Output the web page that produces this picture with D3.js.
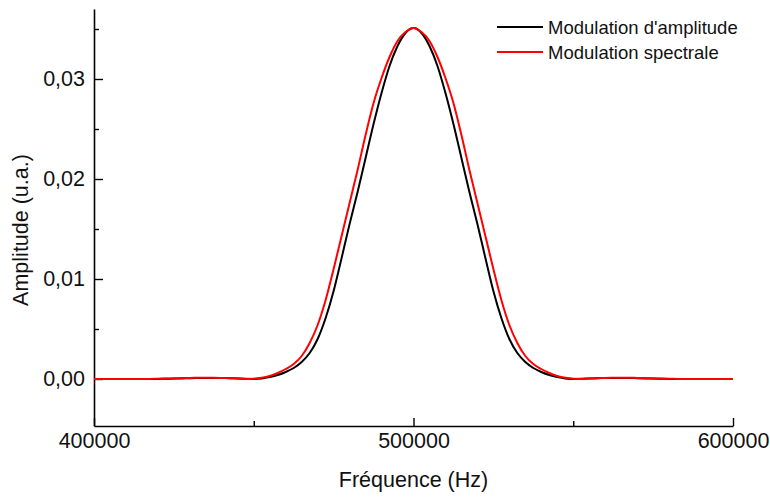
<!DOCTYPE html>
<html>
<head>
<meta charset="utf-8">
<script src="https://cdn.jsdelivr.net/npm/d3@7"></script>
<style>
  html, body { margin: 0; padding: 0; background: #fff; }
  svg { display: block; font-family: "Liberation Sans", Arial, sans-serif; }
</style>
</head>
<body>
<svg id="chart" width="770" height="498"></svg>
<script>
// Frequency grid (Hz)
const frequencies = [
  400000, 410000, 415000, 417500, 420000, 422500, 425000, 427500, 430000, 432500,
  435000, 437500, 440000, 442500, 445000, 447500, 450000, 452500, 455000, 457500,
  460000, 462500, 465000, 467500, 470000, 472500, 475000, 477500, 480000, 482500,
  485000, 487500, 490000, 492500, 495000, 497500, 500000,
  502500, 505000, 507500, 510000, 512500, 515000, 517500, 520000, 522500, 525000,
  527500, 530000, 532500, 535000, 537500, 540000, 542500, 545000, 547500, 550000,
  552500, 555000, 557500, 560000, 562500, 565000, 567500, 570000, 572500, 575000,
  577500, 580000, 582500, 585000, 590000, 600000
];

// Amplitude modulation spectrum (u.a.)
const amplitudeModulation = [
  0, 0, 0, 0, 0.00001, 0.00002, 0.00004, 0.00006, 0.00008, 0.0001,
  0.00011, 0.00011, 0.0001, 0.00008, 0.00005, 0.00002, 0.00001, 0.00006, 0.0002, 0.0004,
  0.0007, 0.0011, 0.0017, 0.0026, 0.0040, 0.0061, 0.0088, 0.0121, 0.0155, 0.0187,
  0.0221, 0.0255, 0.0286, 0.0313, 0.0333, 0.0346, 0.0351,
  0.0346, 0.0333, 0.0313, 0.0286, 0.0255, 0.0221, 0.0187, 0.0155, 0.0121, 0.0088,
  0.0061, 0.0040, 0.0026, 0.0017, 0.0011, 0.0007, 0.0004, 0.0002, 0.00006, 0.00001,
  0.00002, 0.00005, 0.00008, 0.0001, 0.00011, 0.00011, 0.0001, 0.00008, 0.00006, 0.00004,
  0.00002, 0.00001, 0, 0, 0, 0
];

// Spectral modulation spectrum (u.a.)
const spectralModulation = [
  0, 0, 0, 0.00001, 0.00002, 0.00004, 0.00006, 0.00009, 0.00011, 0.00012,
  0.00013, 0.00012, 0.0001, 0.00007, 0.00004, 0.00001, 0.00003, 0.00012, 0.0003, 0.0006,
  0.0010, 0.0015, 0.0023, 0.0036, 0.0054, 0.0079, 0.0110, 0.0143, 0.0176, 0.0209,
  0.0244, 0.0276, 0.0301, 0.0322, 0.0338, 0.0347, 0.0351,
  0.0347, 0.0338, 0.0322, 0.0301, 0.0276, 0.0244, 0.0209, 0.0176, 0.0143, 0.0110,
  0.0079, 0.0054, 0.0036, 0.0023, 0.0015, 0.0010, 0.0006, 0.0003, 0.00012, 0.00003,
  0.00001, 0.00004, 0.00007, 0.0001, 0.00012, 0.00013, 0.00012, 0.00011, 0.00009, 0.00006,
  0.00004, 0.00002, 0.00001, 0, 0, 0
];

const seriesNames = ["Modulation d'amplitude", "Modulation spectrale"];
const seriesColors = ["#000000", "#ff0000"];

const xMajorTicks = [400000, 500000, 600000];
const xMinorTicks = [450000, 550000];
const yMajorTicks = [0, 0.01, 0.02, 0.03];
const yMinorTicks = [0.005, 0.015, 0.025, 0.035];

const xTitle = "Fréquence (Hz)";
const yTitle = "Amplitude (u.a.)";

const svg = d3.select("#chart");
const fontSize = 21.5;

const x = d3.scaleLinear().domain([400000, 600000]).range([94, 733]);
const y = d3.scaleLinear().domain([-0.0047, 0.037]).range([426, 9]);

const yFmt = v => d3.format(".2f")(v).replace(".", ",");

// Left axis: major ticks with labels, minor ticks without
const gy = svg.append("g").attr("transform", `translate(${x.range()[0]},0)`);
gy.call(d3.axisLeft(y).tickValues(yMajorTicks).tickFormat(yFmt)
  .tickSizeInner(-9).tickSizeOuter(0).tickPadding(9));
gy.append("g").call(d3.axisLeft(y).tickValues(yMinorTicks).tickFormat("")
  .tickSizeInner(-5).tickSizeOuter(0))
  .select(".domain").remove();

// Bottom axis
const gx = svg.append("g").attr("transform", `translate(0,${y.range()[0]})`);
gx.call(d3.axisBottom(x).tickValues(xMajorTicks).tickFormat(d3.format("d"))
  .tickSizeInner(-8).tickSizeOuter(0).tickPadding(7));
gx.append("g").call(d3.axisBottom(x).tickValues(xMinorTicks).tickFormat("")
  .tickSizeInner(-5).tickSizeOuter(0))
  .select(".domain").remove();

svg.selectAll(".domain").attr("stroke", "#000").attr("stroke-width", 1.6);
svg.selectAll(".tick line").attr("stroke", "#000").attr("stroke-width", 1.4);
svg.selectAll(".tick text")
  .attr("font-family", "'Liberation Sans', Arial, sans-serif")
  .attr("font-size", fontSize).attr("fill", "#111");

// Axis titles
svg.append("text")
  .attr("x", 413.5).attr("y", 487)
  .attr("text-anchor", "middle")
  .attr("font-size", fontSize).attr("fill", "#111")
  .text(xTitle);
svg.append("text")
  .attr("transform", "translate(28,230) rotate(-90)")
  .attr("text-anchor", "middle")
  .attr("font-size", fontSize).attr("fill", "#111")
  .text(yTitle);

// Curves
const series = [amplitudeModulation, spectralModulation];
const line = d3.line()
  .x(d => x(d[0]))
  .y(d => y(d[1]))
  .curve(d3.curveMonotoneX);

series.forEach((vals, i) => {
  svg.append("path")
    .datum(frequencies.map((f, k) => [f, vals[k]]))
    .attr("fill", "none")
    .attr("stroke", seriesColors[i])
    .attr("stroke-width", 2)
    .attr("stroke-linejoin", "round")
    .attr("d", line);
});

// Legend
const legend = svg.append("g");
seriesNames.forEach((name, i) => {
  const yy = 27 + i * 25;
  legend.append("line")
    .attr("x1", 497).attr("x2", 543)
    .attr("y1", yy).attr("y2", yy)
    .attr("stroke", seriesColors[i]).attr("stroke-width", 2);
  legend.append("text")
    .attr("x", 548).attr("y", yy + 7)
    .attr("font-size", 18.5).attr("fill", "#111")
    .text(name);
});
</script>
</body>
</html>
